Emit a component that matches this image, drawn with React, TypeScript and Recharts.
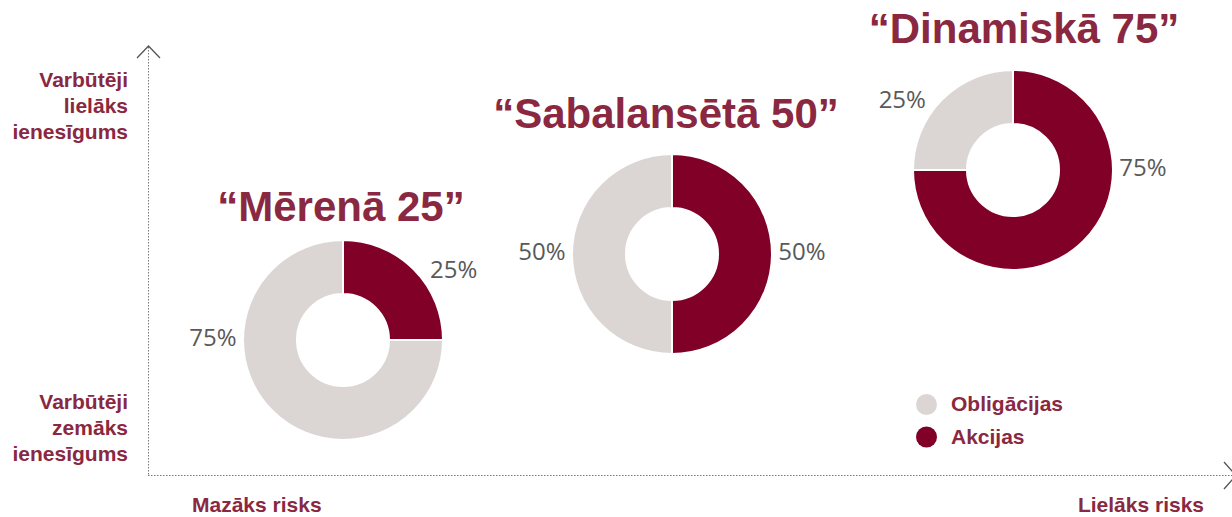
import React from 'react';
import { PieChart, Pie, Cell } from 'recharts';

// ---- data ----
const categories = ['Akcijas', 'Obligācijas'];
const portfolioNames = ['“Mērenā 25”', '“Sabalansētā 50”', '“Dinamiskā 75”'];
const akcijasShare = [25, 50, 75];
const obligacijasShare = [75, 50, 25];
const yTopLabel = ['Varbūtēji', 'lielāks', 'ienesīgums'];
const yBottomLabel = ['Varbūtēji', 'zemāks', 'ienesīgums'];
const xLeftLabel = 'Mazāks risks';
const xRightLabel = 'Lielāks risks';
const legendOrder = ['Obligācijas', 'Akcijas'];

// ---- style / layout ----
const W = 1232;
const H = 517;
const MAROON = '#800027';
const GREY = '#DBD6D4';
const TEXT_MAROON = '#8A2841';
const PCT_GREY = '#595959';
const COLORS: Record<string, string> = { Akcijas: MAROON, 'Obligācijas': GREY };
const PIE_POS = [
  { cx: 343, cy: 340 },
  { cx: 672, cy: 254 },
  { cx: 1013, cy: 170 },
];
const TITLE_POS = [
  { x: 341, y: 221 },
  { x: 666, y: 128 },
  { x: 1024, y: 43 },
];
const BOLD = 'Liberation Sans, Arial, sans-serif';

const RAD = Math.PI / 180;

const renderPct = (props: any) => {
  const { cx, cy, midAngle, percent, value } = props;
  const right = Math.cos(midAngle * RAD) >= 0;
  const small = percent < 0.5;
  const ang = small ? 33 : 0;
  const R = small ? 132 : 130;
  const dx = R * Math.cos(ang * RAD);
  const x = right ? cx + dx : cx - dx;
  const y = cy - R * Math.sin(ang * RAD) - (small ? 0 : 4);
  return (
    <text
      x={x}
      y={y}
      textAnchor="middle"
      dominantBaseline="central"
      fontFamily="'Open Sans', sans-serif"
      fontSize={24}
      fill={PCT_GREY}
    >
      {`${value}%`}
    </text>
  );
};

export default function App() {
  const datasets = portfolioNames.map((_, i) => [
    { name: categories[0], value: akcijasShare[i] },
    { name: categories[1], value: obligacijasShare[i] },
  ]);

  return (
    <div style={{ position: 'absolute', left: 0, top: 0, width: W, height: H, background: '#fff', overflow: 'hidden' }}>
      <div style={{ position: 'absolute', left: 0, top: 0 }}>
        <PieChart width={W} height={H} margin={{ top: 0, right: 0, bottom: 0, left: 0 }}>
          {datasets.map((d, i) => (
            <Pie
              key={i}
              data={d}
              dataKey="value"
              nameKey="name"
              cx={PIE_POS[i].cx}
              cy={PIE_POS[i].cy}
              innerRadius={46}
              outerRadius={100}
              startAngle={90}
              endAngle={-270}
              stroke="#ffffff"
              strokeWidth={2}
              label={renderPct}
              labelLine={false}
              isAnimationActive={false}
            >
              {d.map((e) => (
                <Cell key={e.name} fill={COLORS[e.name]} />
              ))}
            </Pie>
          ))}
        </PieChart>
      </div>
      <svg
        width={W}
        height={H}
        style={{ position: 'absolute', left: 0, top: 0, pointerEvents: 'none' }}
      >
        {/* axes */}
        <line x1={148.5} y1={47} x2={148.5} y2={475.5} stroke="#777" strokeWidth={1} strokeDasharray="1.5 1.5" />
        <line x1={148} y1={475.5} x2={1234} y2={475.5} stroke="#777" strokeWidth={1} strokeDasharray="1.5 1.5" />
        <polyline points="137,58 148.5,46 160,58" fill="none" stroke="#555" strokeWidth={1.3} />
        <polyline points="1224,462 1236,475.5 1224,489" fill="none" stroke="#555" strokeWidth={1.3} />

        {/* y labels */}
        {yTopLabel.map((t, i) => (
          <text key={'t' + i} x={128} y={87 + i * 26} textAnchor="end" fontFamily={BOLD} fontWeight="bold" fontSize={21} fill={TEXT_MAROON}>
            {t}
          </text>
        ))}
        {yBottomLabel.map((t, i) => (
          <text key={'b' + i} x={128} y={409 + i * 26} textAnchor="end" fontFamily={BOLD} fontWeight="bold" fontSize={21} fill={TEXT_MAROON}>
            {t}
          </text>
        ))}

        {/* x labels */}
        <text x={192} y={512} fontFamily={BOLD} fontWeight="bold" fontSize={21} fill={TEXT_MAROON}>
          {xLeftLabel}
        </text>
        <text x={1204} y={512} textAnchor="end" fontFamily={BOLD} fontWeight="bold" fontSize={21} fill={TEXT_MAROON}>
          {xRightLabel}
        </text>

        {/* titles */}
        {portfolioNames.map((t, i) => (
          <text key={'n' + i} x={TITLE_POS[i].x} y={TITLE_POS[i].y} textAnchor="middle" fontFamily={BOLD} fontWeight="bold" fontSize={42} fill={TEXT_MAROON}>
            {t}
          </text>
        ))}

        {/* legend */}
        {legendOrder.map((name, i) => (
          <g key={'l' + name}>
            <circle cx={926.5} cy={404.5 + i * 32.5} r={10.5} fill={COLORS[name]} />
            <text x={951} y={411 + i * 32.5} fontFamily={BOLD} fontWeight="bold" fontSize={21} fill={TEXT_MAROON}>
              {name}
            </text>
          </g>
        ))}
      </svg>
    </div>
  );
}
